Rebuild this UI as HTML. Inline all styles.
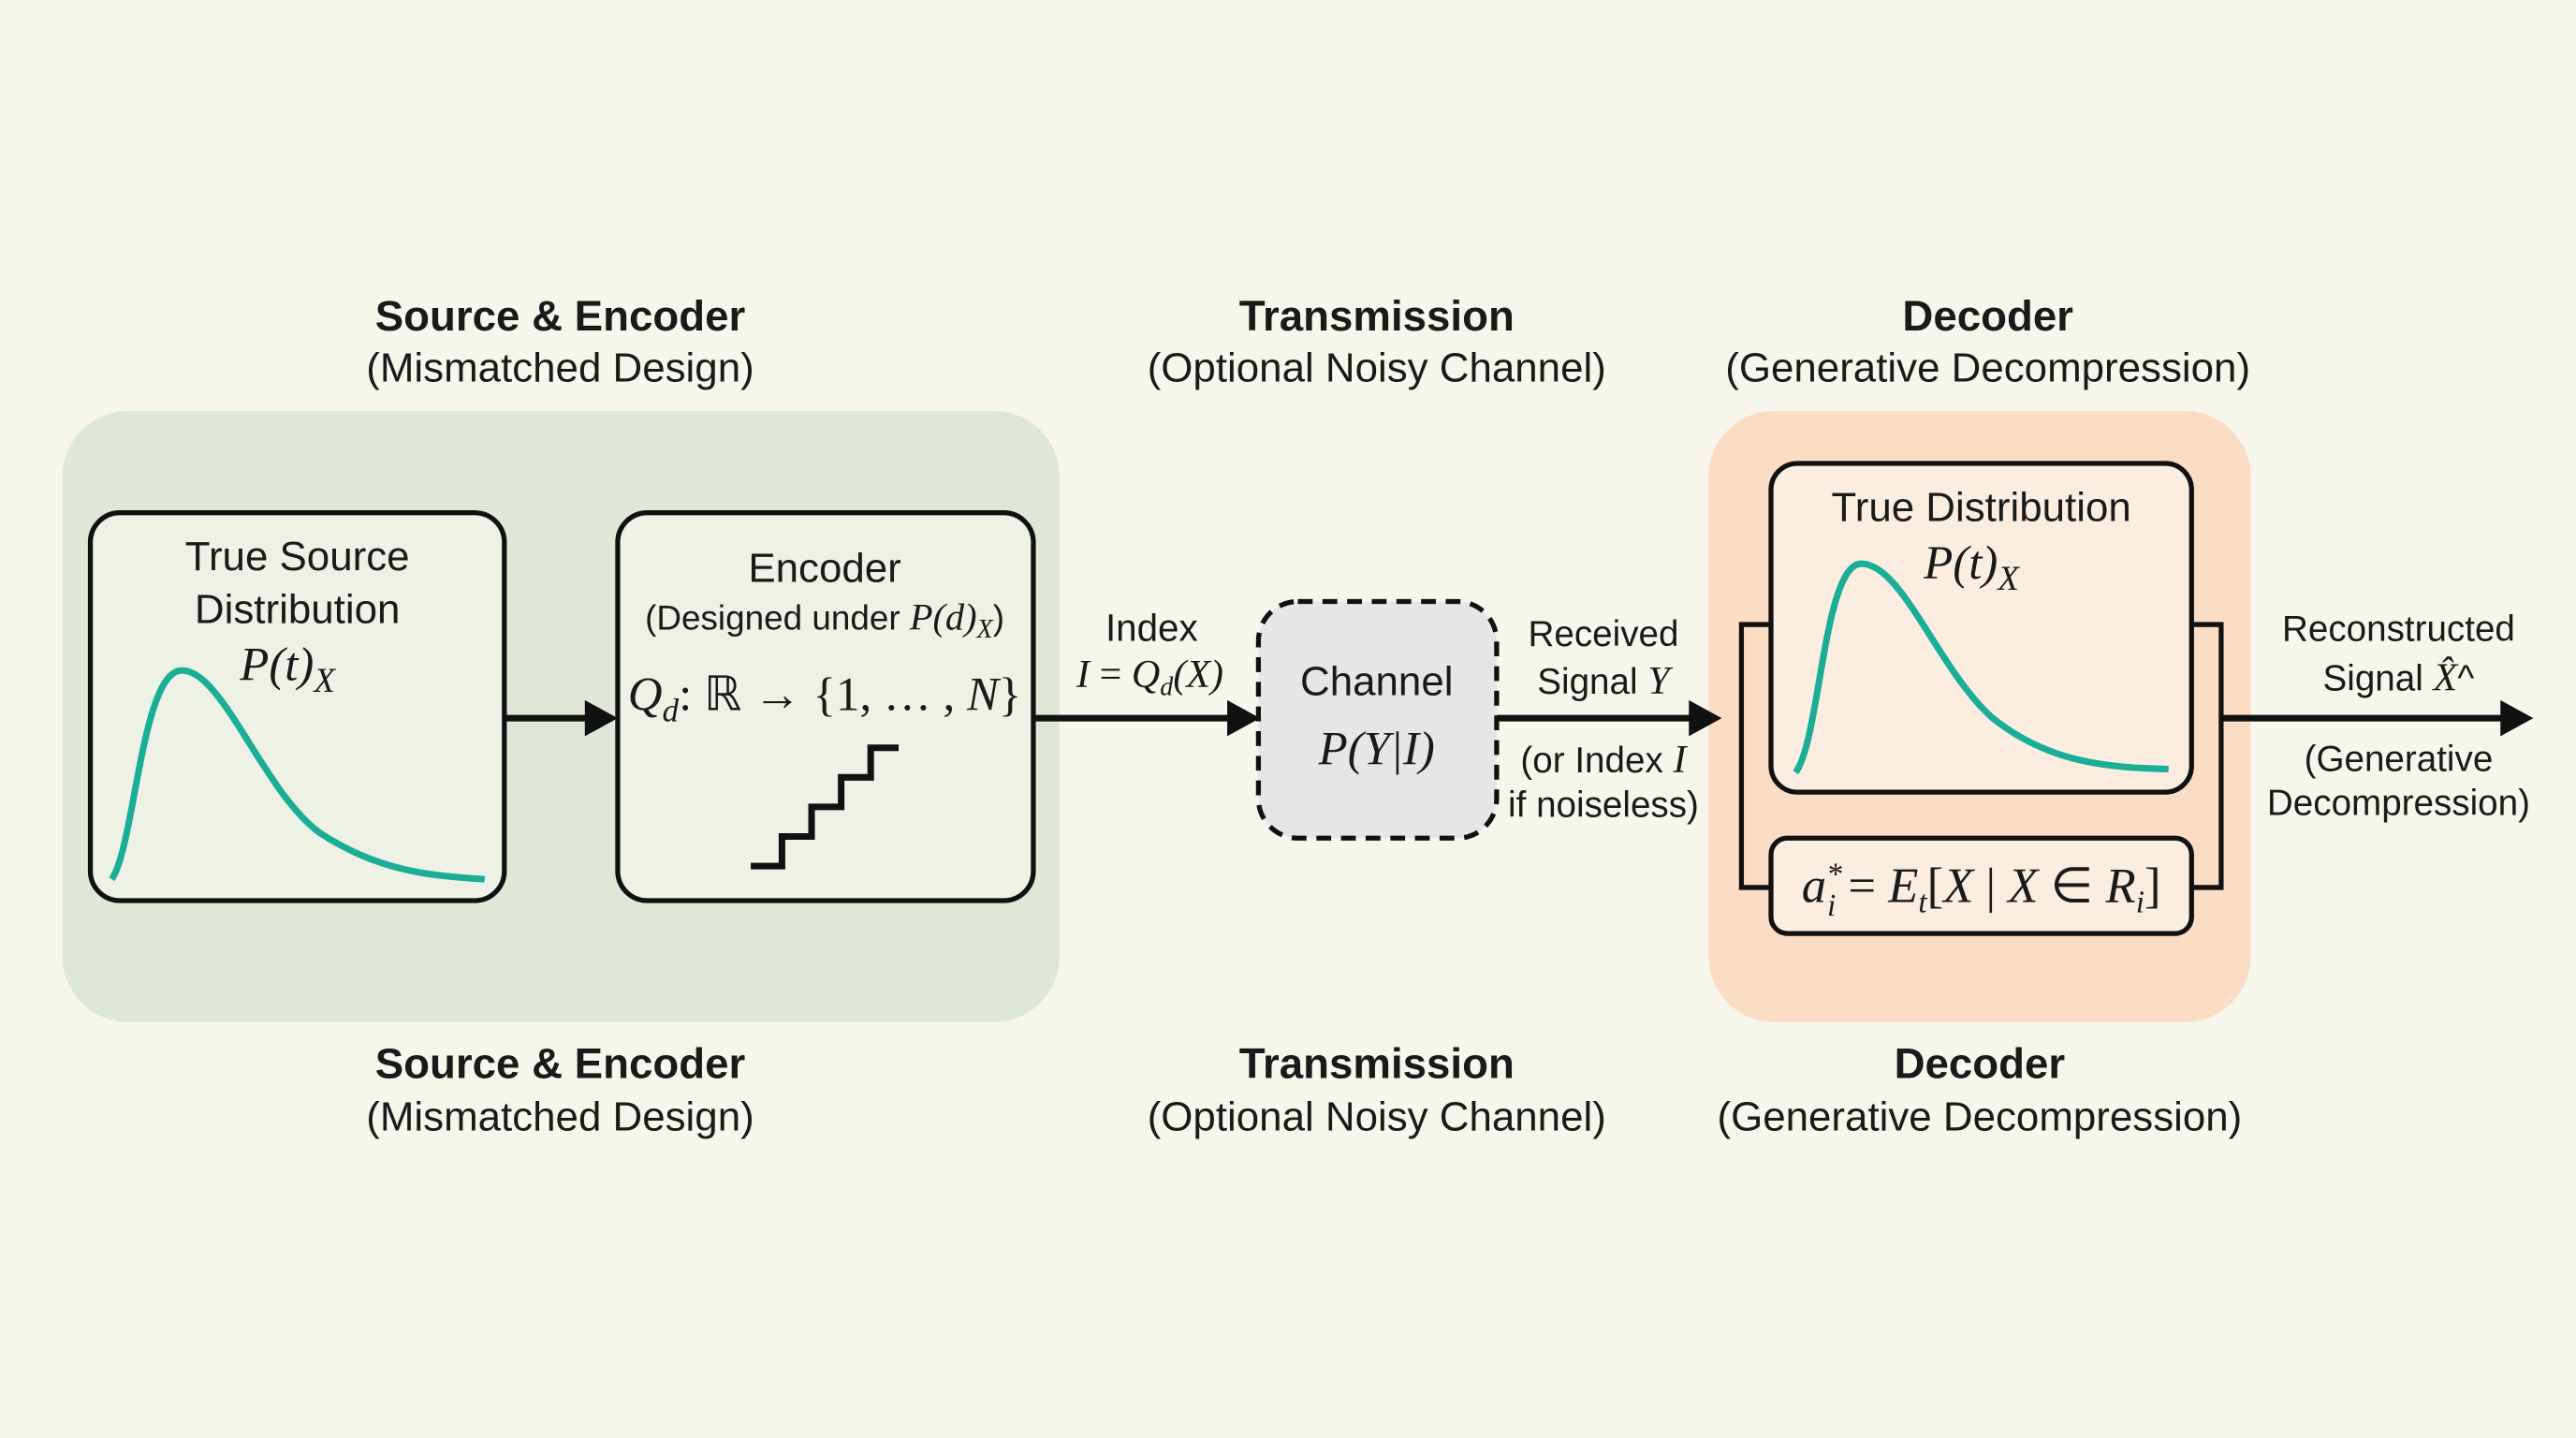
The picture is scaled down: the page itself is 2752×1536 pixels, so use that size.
<!DOCTYPE html>
<html><head><meta charset="utf-8"><style>
html,body{margin:0;padding:0;background:#f7f6ec}
svg{display:block}
.t{font-family:"Liberation Sans",sans-serif;fill:#1a1a1a}
.m{font-family:"Liberation Serif",serif;font-style:italic;fill:#1a1a1a}
.b{font-weight:bold}
</style></head><body>
<svg width="2752" height="1536" viewBox="0 0 1568 875" preserveAspectRatio="none" xmlns="http://www.w3.org/2000/svg">
<rect width="1568" height="875" fill="#f7f6ec"/>
<rect x="38" y="250" width="607" height="372" rx="40" fill="#dfe8d8"/>
<rect x="1040" y="250" width="330" height="372" rx="40" fill="#fbdcc4"/>
<g class="t" text-anchor="middle" font-size="25">
<text x="341" y="201" class="b" font-size="26">Source &amp; Encoder</text>
<text x="341" y="232">(Mismatched Design)</text>
<text x="838" y="201" class="b" font-size="26">Transmission</text>
<text x="838" y="232">(Optional Noisy Channel)</text>
<text x="1210" y="201" class="b" font-size="26">Decoder</text>
<text x="1210" y="232">(Generative Decompression)</text>
<text x="341" y="656" class="b" font-size="26">Source &amp; Encoder</text>
<text x="341" y="688">(Mismatched Design)</text>
<text x="838" y="656" class="b" font-size="26">Transmission</text>
<text x="838" y="688">(Optional Noisy Channel)</text>
<text x="1205" y="656" class="b" font-size="26">Decoder</text>
<text x="1205" y="688">(Generative Decompression)</text>
</g>
<rect x="55" y="312" width="252" height="236" rx="18" fill="#eef1e6" stroke="#111" stroke-width="3"/>
<g class="t" text-anchor="middle" font-size="25">
<text x="181" y="347">True Source</text>
<text x="181" y="379">Distribution</text>
</g>
<text class="m" x="146" y="414" font-size="29">P(t)<tspan font-size="21" dy="7">X</tspan></text>
<path d="M68,535 C82,515 86,410 110,408 C135,406 160,482 195,507 C230,530 262,533 295,535" fill="none" stroke="#1aae96" stroke-width="4"/>
<rect x="376" y="312" width="253" height="236" rx="18" fill="#eef1e6" stroke="#111" stroke-width="3"/>
<text class="t" x="502" y="354" font-size="25" text-anchor="middle">Encoder</text>
<text class="t" x="502" y="383" font-size="21" text-anchor="middle">(Designed under <tspan class="m" font-size="23">P(d)</tspan><tspan class="m" font-size="16" dy="5">X</tspan><tspan dy="-5">)</tspan></text>
<text class="m" x="502" y="432" font-size="29" text-anchor="middle">Q<tspan font-size="20" dy="7">d</tspan><tspan dy="-7" style="font-style:normal">: ℝ → {1, … , </tspan>N<tspan style="font-style:normal">}</tspan></text>
<polyline points="457,527 476,527 476,509 494,509 494,491 512,491 512,473 530,473 530,455 547,455" fill="none" stroke="#111" stroke-width="4"/>
<g stroke="#111" stroke-width="4" fill="#111">
<line x1="307" y1="437" x2="358" y2="437"/><polygon points="356,426 376,437 356,448" stroke="none"/>
<line x1="629" y1="437" x2="750" y2="437"/><polygon points="747,426 767,437 747,448" stroke="none"/>
<line x1="911" y1="437" x2="1030" y2="437"/><polygon points="1028,426 1048,437 1028,448" stroke="none"/>
<line x1="1352" y1="437" x2="1525" y2="437"/><polygon points="1522,426 1542,437 1522,448" stroke="none"/>
</g>
<text class="t" x="701" y="390" font-size="23" text-anchor="middle">Index</text>
<text class="m" x="700" y="418" font-size="24" text-anchor="middle">I <tspan style="font-style:normal">=</tspan> Q<tspan font-size="16" dy="5">d</tspan><tspan dy="-5">(X)</tspan></text>
<rect x="766" y="366" width="145" height="144" rx="24" fill="#e6e6e6" stroke="#111" stroke-width="3" stroke-dasharray="9,6"/>
<text class="t" x="838" y="423" font-size="25" text-anchor="middle">Channel</text>
<text class="m" x="838" y="465" font-size="29" text-anchor="middle">P(Y|I)</text>
<g class="t" font-size="22" text-anchor="middle">
<text x="976" y="393">Received</text>
<text x="976" y="422">Signal <tspan class="m" font-size="24">Y</tspan></text>
<text x="976" y="470">(or Index <tspan class="m" font-size="24">I</tspan></text>
<text x="976" y="497">if noiseless)</text>
<text x="1460" y="390">Reconstructed</text>
<text x="1460" y="420">Signal <tspan class="m" font-size="24">X̂</tspan>^</text>
<text x="1460" y="469">(Generative</text>
<text x="1460" y="496">Decompression)</text>
</g>
<polyline points="1078,380 1060,380 1060,540 1078,540" fill="none" stroke="#111" stroke-width="3"/>
<polyline points="1334,380 1352,380 1352,540 1334,540" fill="none" stroke="#111" stroke-width="3"/>
<rect x="1078" y="282" width="256" height="200" rx="16" fill="#fbeee0" stroke="#111" stroke-width="3"/>
<text class="t" x="1206" y="317" font-size="25" text-anchor="middle">True Distribution</text>
<text class="m" x="1171" y="352" font-size="29">P(t)<tspan font-size="21" dy="7">X</tspan></text>
<path d="M1093,470 C1108,450 1110,343 1133,343 C1158,343 1180,408 1213,437 C1248,465 1285,467 1320,468" fill="none" stroke="#1aae96" stroke-width="4"/>
<rect x="1078" y="510" width="256" height="58" rx="10" fill="#fbeee0" stroke="#111" stroke-width="3"/>
<text class="m" x="1206" y="549" font-size="30" text-anchor="middle">a<tspan font-size="19" dy="-11">*</tspan><tspan font-size="19" dx="-9" dy="19">i</tspan><tspan dy="-8" style="font-style:normal"> = </tspan>E<tspan font-size="19" dy="6">t</tspan><tspan dy="-6" style="font-style:normal">[</tspan>X <tspan style="font-style:normal">| </tspan>X <tspan style="font-style:normal">∈ </tspan>R<tspan font-size="19" dy="6">i</tspan><tspan dy="-6" style="font-style:normal">]</tspan></text>
</svg>
</body></html>
